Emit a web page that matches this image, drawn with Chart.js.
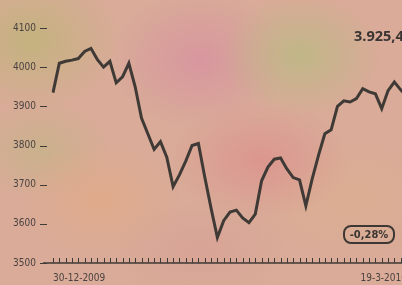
<!DOCTYPE html>
<html>
<head>
<meta charset="utf-8">
<script src="https://cdn.jsdelivr.net/npm/chart.js@4/dist/chart.umd.min.js"></script>
<style>
  html, body { margin: 0; padding: 0; width: 402px; height: 285px; overflow: hidden; }
  body {
    position: relative;
    background-color: #d9ab98;
    background-image:
      radial-gradient(ellipse 90px 70px at 30px 40px, rgba(190,180,120,0.8), rgba(190,180,120,0)),
      radial-gradient(ellipse 80px 60px at 300px 55px, rgba(185,185,130,0.8), rgba(185,185,130,0)),
      radial-gradient(ellipse 90px 70px at 200px 60px, rgba(215,145,160,0.8), rgba(215,145,160,0)),
      radial-gradient(ellipse 80px 60px at 100px 200px, rgba(225,170,135,0.8), rgba(225,170,135,0)),
      radial-gradient(ellipse 90px 60px at 260px 160px, rgba(220,145,140,0.8), rgba(220,145,140,0)),
      radial-gradient(ellipse 70px 50px at 40px 150px, rgba(195,180,135,0.7), rgba(195,180,135,0)),
      radial-gradient(ellipse 100px 60px at 350px 200px, rgba(220,175,145,0.8), rgba(220,175,145,0)),
      radial-gradient(ellipse 90px 50px at 200px 250px, rgba(215,160,150,0.7), rgba(215,160,150,0));
  }
  #wrap { position: absolute; left: 0; top: 0; width: 412px; height: 285px; }
  #last {
    position: absolute; left: 354px; top: 28px;
    font-family: "Open Sans", "DejaVu Sans", sans-serif; font-weight: bold; font-size: 14.5px;
    line-height: 16px; color: #3a3432; white-space: nowrap;
  }
  #pct {
    position: absolute; left: 343px; top: 225px; width: 52px; height: 19px;
    border: 2px solid #3e3834; border-radius: 8px; box-sizing: border-box;
    font-family: "Liberation Sans Narrow", "DejaVu Sans Condensed", sans-serif; font-weight: bold; font-size: 11px;
    color: #3a3432; text-align: center; line-height: 16px;
  }
</style>
</head>
<body>
<div id="wrap"><canvas id="chart"></canvas></div>
<div id="last">3.925,40</div>
<div id="pct">-0,28%</div>
<script>
// handelsdagen 30-12-2009 t/m 19-3-2010
const dagen = [
  '30-12-2009', '31-12-2009',
  '4-1-2010', '5-1-2010', '6-1-2010', '7-1-2010', '8-1-2010',
  '11-1-2010', '12-1-2010', '13-1-2010', '14-1-2010', '15-1-2010',
  '18-1-2010', '19-1-2010', '20-1-2010', '21-1-2010', '22-1-2010',
  '25-1-2010', '26-1-2010', '27-1-2010', '28-1-2010', '29-1-2010',
  '1-2-2010', '2-2-2010', '3-2-2010', '4-2-2010', '5-2-2010',
  '8-2-2010', '9-2-2010', '10-2-2010', '11-2-2010', '12-2-2010',
  '15-2-2010', '16-2-2010', '17-2-2010', '18-2-2010', '19-2-2010',
  '22-2-2010', '23-2-2010', '24-2-2010', '25-2-2010', '26-2-2010',
  '1-3-2010', '2-3-2010', '3-3-2010', '4-3-2010', '5-3-2010',
  '8-3-2010', '9-3-2010', '10-3-2010', '11-3-2010', '12-3-2010',
  '15-3-2010', '16-3-2010', '17-3-2010', '18-3-2010', '19-3-2010'
];

const koers = [
  3935, 4010, 4015, 4018, 4022, 4040, 4048, 4020, 4000, 4015,
  3960, 3975, 4010, 3950, 3870, 3830, 3790, 3810, 3770, 3695,
  3725, 3760, 3800, 3805, 3720, 3640, 3565, 3608, 3630, 3635,
  3615, 3603, 3625, 3710, 3745, 3765, 3768, 3740, 3718, 3712,
  3646, 3715, 3775, 3830, 3840, 3900, 3914, 3911, 3920, 3945,
  3937, 3932, 3894, 3940, 3962, 3942, 3925
];

const yTicks = [3500, 3600, 3700, 3800, 3900, 4000, 4100];

const inkt = '#403a36';
const labelFont = { family: "'Liberation Sans Narrow', 'DejaVu Sans Condensed', sans-serif", size: 10 };

// streepjes bij de y-as en tikjes langs de x-as
const asPlugin = {
  id: 'assen',
  afterDraw(chart) {
    const ctx = chart.ctx;
    const x = chart.scales.x;
    const y = chart.scales.y;
    const base = y.getPixelForValue(3500);
    ctx.save();
    ctx.strokeStyle = inkt;
    ctx.lineWidth = 1;
    yTicks.forEach(v => {
      const py = Math.round(y.getPixelForValue(v)) + 0.5;
      ctx.beginPath();
      ctx.moveTo(x.left - 13, py);
      ctx.lineTo(x.left - 6, py);
      ctx.stroke();
    });
    ctx.lineWidth = 1.5;
    ctx.beginPath();
    ctx.moveTo(x.left - 10, base);
    ctx.lineTo(x.right + 10, base);
    ctx.stroke();
    ctx.lineWidth = 1;
    dagen.forEach((d, i) => {
      const px = Math.round(x.getPixelForValue(i)) + 0.5;
      ctx.beginPath();
      ctx.moveTo(px, base);
      ctx.lineTo(px, base - 5);
      ctx.stroke();
    });
    ctx.restore();
  }
};

new Chart(document.getElementById('chart'), {
  type: 'line',
  data: {
    labels: dagen,
    datasets: [{
      data: koers,
      borderColor: inkt,
      borderWidth: 3,
      pointRadius: 0,
      tension: 0,
      fill: false
    }]
  },
  options: {
    responsive: true,
    maintainAspectRatio: false,
    animation: false,
    layout: { padding: { top: 28, right: 5, left: 0, bottom: 0 } },
    plugins: { legend: { display: false }, tooltip: { enabled: false } },
    scales: {
      x: {
        grid: { display: false },
        border: { display: false },
        ticks: {
          autoSkip: false,
          maxRotation: 0,
          align: 'inner',
          padding: 1,
          color: '#4a4240',
          font: labelFont,
          callback: (v, i) => (i === 0 || i === dagen.length - 1) ? dagen[i] : ''
        }
      },
      y: {
        min: 3500,
        max: 4100,
        afterFit: s => { s.width = 53; },
        afterBuildTicks: s => { s.ticks = yTicks.map(v => ({ value: v })); },
        grid: { display: false },
        border: { display: false },
        ticks: {
          padding: 9,
          color: '#4a4240',
          font: labelFont,
          callback: v => String(v)
        }
      }
    }
  },
  plugins: [asPlugin]
});
</script>
</body>
</html>
